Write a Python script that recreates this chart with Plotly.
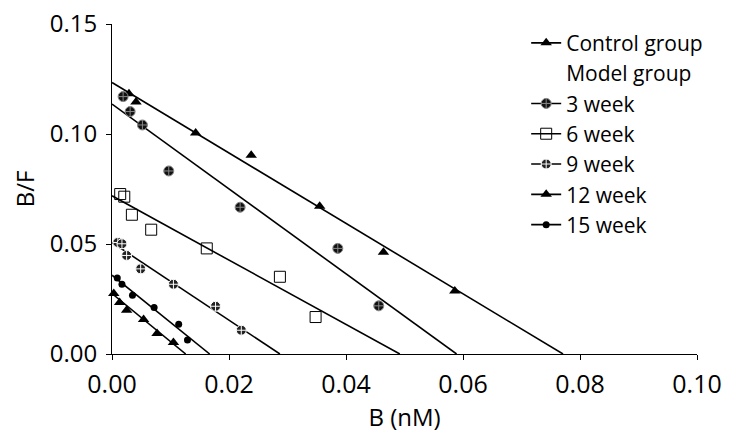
import plotly.graph_objects as go

# ---- data ----
control_x = [0.0029, 0.0041, 0.0143, 0.0238, 0.0355, 0.0464, 0.0586]
control_y = [0.1183, 0.1145, 0.1004, 0.0903, 0.0672, 0.0462, 0.0286]

w3_x = [0.0019, 0.0031, 0.0052, 0.0097, 0.0219, 0.0386, 0.0456]
w3_y = [0.1170, 0.1102, 0.1041, 0.0832, 0.0667, 0.0480, 0.0219]

w6_x = [0.0014, 0.0021, 0.0034, 0.0067, 0.0162, 0.0287, 0.0348]
w6_y = [0.0727, 0.0715, 0.0633, 0.0565, 0.0480, 0.0351, 0.0168]

w9_x = [0.0010, 0.0017, 0.0025, 0.0049, 0.0105, 0.0177, 0.0221]
w9_y = [0.0507, 0.0501, 0.0448, 0.0387, 0.0317, 0.0217, 0.0108]

w12_x = [0.0003, 0.0013, 0.0025, 0.0054, 0.0077, 0.0105]
w12_y = [0.0275, 0.0234, 0.0199, 0.0157, 0.0093, 0.0052]

w15_x = [0.0009, 0.0017, 0.0035, 0.0072, 0.0114, 0.0129]
w15_y = [0.0346, 0.0317, 0.0267, 0.0211, 0.0135, 0.0064]

# regression lines: y-intercept (B/F at B=0) and x-intercept (Bmax)
line_names = ["Control group", "3 week", "6 week", "9 week", "12 week", "15 week"]
y_intercepts = [0.1234, 0.1136, 0.0719, 0.0507, 0.0275, 0.0358]
x_intercepts = [0.0771, 0.0589, 0.0492, 0.0287, 0.0126, 0.0167]

x_ticks = [0.00, 0.02, 0.04, 0.06, 0.08, 0.10]
y_ticks = [0.00, 0.05, 0.10, 0.15]

FONT = "Open Sans"
BLACK = "#000000"
CLEAR = "rgba(0,0,0,0)"

# marker styles per group: symbol, size, fill colour, outline colour, outline width
styles = {
    "Control group": ("triangle-up", 10, BLACK, BLACK, 0),
    "3 week": ("circle-cross", 10, "#111111", "#888888", 1),
    "6 week": ("square-open", 11, BLACK, BLACK, 1),
    "9 week": ("circle-cross", 10, "#222222", "#ffffff", 1),
    "12 week": ("triangle-up", 10, BLACK, BLACK, 0),
    "15 week": ("circle", 7, BLACK, BLACK, 0),
}
points = {
    "Control group": (control_x, control_y),
    "3 week": (w3_x, w3_y),
    "6 week": (w6_x, w6_y),
    "9 week": (w9_x, w9_y),
    "12 week": (w12_x, w12_y),
    "15 week": (w15_x, w15_y),
}
legend_rank = {"Control group": 1, "3 week": 3, "6 week": 4, "9 week": 5,
               "12 week": 6, "15 week": 7}

fig = go.Figure()

for name, b, xi in zip(line_names, y_intercepts, x_intercepts):
    sym, size, fill, outline, olw = styles[name]
    # fitted line; it also carries the legend entry (line + marker symbol).
    # Its endpoint markers are transparent, the first (empty) point sets the legend colour.
    fig.add_trace(go.Scatter(
        x=[None, 0, xi], y=[None, b, 0], mode="lines+markers", name=name,
        line=dict(color=BLACK, width=1.6),
        marker=dict(symbol=sym, size=size, color=[fill, CLEAR, CLEAR],
                    line=dict(color=[outline, CLEAR, CLEAR], width=olw)),
        legendgroup=name, legendrank=legend_rank[name],
        hoverinfo="skip",
    ))
    xs, ys = points[name]
    fig.add_trace(go.Scatter(
        x=xs, y=ys, mode="markers", name=name,
        marker=dict(symbol=sym, size=size, color=fill,
                    line=dict(color=outline, width=olw)),
        cliponaxis=False, legendgroup=name, showlegend=False,
    ))

# "Model group" heading entry in the legend (no symbol)
fig.add_trace(go.Scatter(
    x=[None], y=[None], mode="markers", name="Model group",
    marker=dict(color=CLEAR, size=1), legendrank=2,
))

fig.update_layout(
    width=731, height=440,
    margin=dict(l=104.3, r=41.7, t=16.3, b=94.3, autoexpand=False),
    paper_bgcolor="white", plot_bgcolor="white",
    font=dict(family=FONT, size=23, color=BLACK),
    showlegend=True,
    legend=dict(
        x=0.708, y=1.004, xanchor="left", yanchor="top",
        bgcolor=CLEAR, borderwidth=0,
        font=dict(family=FONT, size=21, color=BLACK),
        traceorder="normal", itemwidth=30, maxheight=400,
        groupclick="togglegroup",
    ),
)

fig.update_xaxes(
    range=[0, 0.1], tickvals=x_ticks, tickformat=".2f", automargin=False,
    showline=True, linecolor=BLACK, linewidth=1,
    ticks="outside", ticklen=5, tickcolor=BLACK, tickwidth=1,
    showgrid=False, zeroline=False, ticklabelstandoff=3, ticklabeloverflow="allow",
    tickfont=dict(family=FONT, size=25, color=BLACK),
    title=dict(text="B (nM)", font=dict(family=FONT, size=24, color=BLACK), standoff=4),
)
fig.update_yaxes(
    range=[0, 0.15], tickvals=y_ticks, tickformat=".2f", automargin=False,
    showline=True, linecolor=BLACK, linewidth=1,
    ticks="outside", ticklen=5, tickcolor=BLACK, tickwidth=1,
    showgrid=False, zeroline=False, ticklabelstandoff=4, ticklabeloverflow="allow",
    tickfont=dict(family=FONT, size=24, color=BLACK),
    title=dict(text="B/F", font=dict(family=FONT, size=24, color=BLACK), standoff=8),
)

fig.write_html("out.html")
